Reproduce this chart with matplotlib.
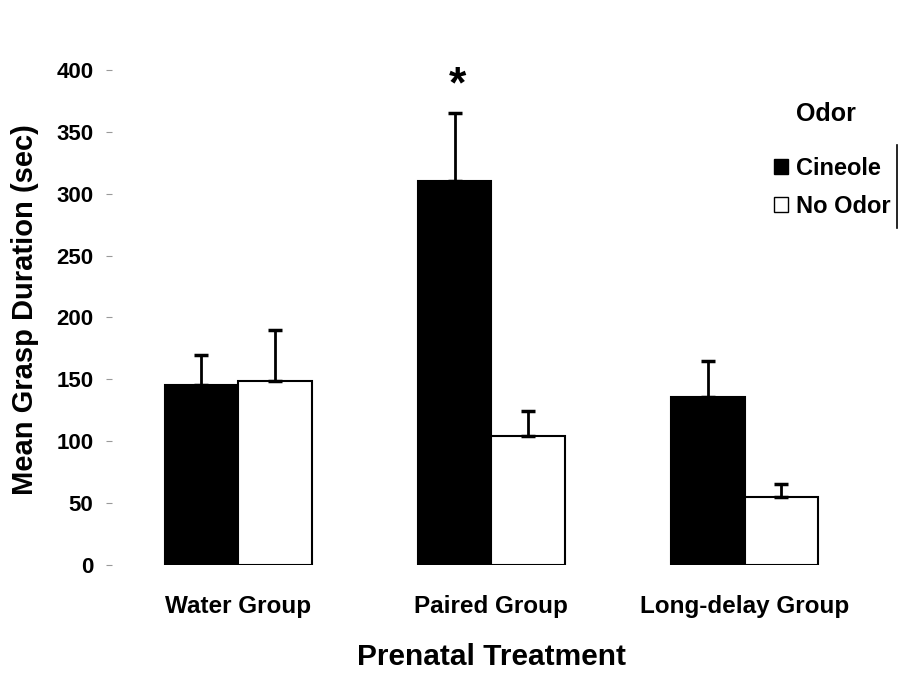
import matplotlib
matplotlib.use("Agg")
import matplotlib.pyplot as plt
import numpy as np
from matplotlib.lines import Line2D

plt.rcParams['font.family'] = ['Liberation Sans', 'DejaVu Sans']
plt.rcParams['font.weight'] = 'bold'

groups = ["Water Group", "Paired Group", "Long-delay Group"]
series = ["Cineole", "No Odor"]
cineole = [145, 310, 136]
cineole_err = [25, 55, 29]
no_odor = [149, 104, 55]
no_odor_err = [41, 20, 10]
yticks = [0, 50, 100, 150, 200, 250, 300, 350, 400]

W, H = 900, 679
fig = plt.figure(figsize=(9, 6.79), dpi=100)
ax = fig.add_axes([0.124, 0.168, 0.844, 0.729])

x = np.arange(len(groups))
w = 0.29
ax.bar(x - w/2, cineole, w, color='black', edgecolor='black', linewidth=1.5, label=series[0])
ax.bar(x + w/2, no_odor, w, color='white', edgecolor='black', linewidth=1.5, label=series[1])
ax.errorbar(x - w/2, cineole, yerr=[np.zeros(3), cineole_err], fmt='none',
            ecolor='black', elinewidth=2, capsize=5, capthick=2.5)
ax.errorbar(x + w/2, no_odor, yerr=[np.zeros(3), no_odor_err], fmt='none',
            ecolor='black', elinewidth=2, capsize=5, capthick=2.5)

ax.text(1 - w/2 + 0.012, 387, "*", ha='center', va='center', fontsize=32, fontweight='bold')

ax.set_xlim(-0.5, 2.5)
ax.set_ylim(0, 400)
ax.set_yticks(yticks)
ax.set_yticklabels([str(t) for t in yticks], fontsize=16, fontweight='bold')
ax.set_xticks(x)
ax.set_xticklabels(groups, fontsize=17.5, fontweight='bold')
ax.tick_params(axis='x', length=0, pad=22)
ax.tick_params(axis='y', length=4, width=0.8, color='#999999', pad=9)
for s in ax.spines.values():
    s.set_visible(False)

ax.set_ylabel("Mean Grasp Duration (sec)", fontsize=21, fontweight='bold')
ax.yaxis.set_label_coords(-0.096, 0.515)
ax.set_xlabel("Prenatal Treatment", fontsize=21.5, fontweight='bold', labelpad=18)

handles = [plt.Rectangle((0, 0), 1, 1, facecolor='black', edgecolor='black'),
           plt.Rectangle((0, 0), 1, 1, facecolor='white', edgecolor='black')]
leg = fig.legend(handles, series, loc='upper left',
                 bbox_to_anchor=(0.842, 1 - 140 / H), frameon=False, fontsize=17,
                 handlelength=0.6, handleheight=0.6, handletextpad=0.3,
                 labelspacing=0.65, borderpad=0.2)
for t in leg.get_texts():
    t.set_fontweight('bold')
fig.text(826 / W, 1 - 114 / H, "Odor", ha='center', va='center', fontsize=18, fontweight='bold')
fig.add_artist(Line2D([0.997, 0.997], [1 - 228 / H, 1 - 145 / H], color='black', linewidth=1.2))

fig.savefig("out.png", dpi=100)
